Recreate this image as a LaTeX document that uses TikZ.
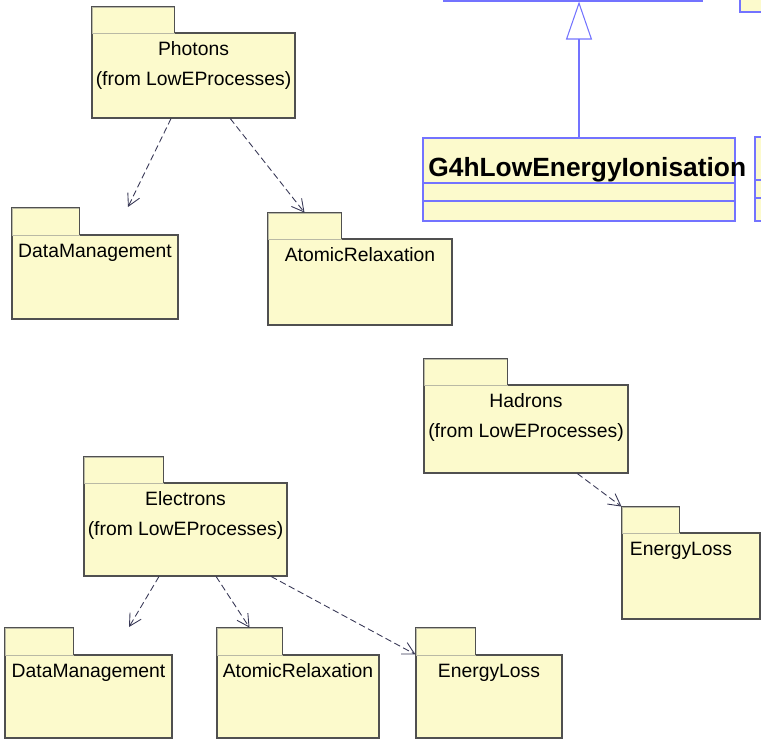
\documentclass[tikz,border=0pt]{standalone}
\usepackage{fontspec}
\setmainfont{Liberation Sans}
\usetikzlibrary{arrows.meta,positioning,fit,calc}
\definecolor{pkgfill}{RGB}{252,250,204}
\definecolor{pkgline}{RGB}{80,80,80}
\definecolor{tabline}{RGB}{185,185,165}
\definecolor{classline}{RGB}{115,115,255}
\definecolor{deparrow}{RGB}{55,55,85}

\begin{document}
\begin{tikzpicture}[
    x=0.02cm, y=-0.02cm,
    font=\fontsize{11}{17}\selectfont,
    pkg/.style={draw=pkgline, fill=pkgfill, line width=0.6pt, inner sep=0pt},
    pkgtab/.style={draw=tabline, fill=pkgfill, line width=0.5pt, inner sep=0pt},
    pkgedge/.style={draw=pkgline, line width=0.6pt},
    pkglabel/.style={align=center, inner sep=0pt, below=1.8mm of #1.north},
    cls/.style={draw=classline, fill=pkgfill, line width=0.6pt, inner sep=0pt},
    dep/.style={-{Straight Barb[length=2.4mm, width=2.6mm]}, draw=deparrow, dash pattern=on 1.3mm off 0.7mm, line width=0.5pt},
    gen/.style={-{Triangle[open, length=7.6mm, width=5.2mm]}, draw=classline, line width=0.6pt}]
  \useasboundingbox (0,0) rectangle (761,740);
  \clip (0,0) rectangle (761,740);

  % classes cut off at the edges
  \node[cls, fit={(444,-20) (702,1)}] (baseClass) {};
  \node[cls, fit={(740,-20) (790,12)}] (cornerClass) {};
  \node[cls, fit={(755,137) (800,180)}] (sideClass) {};
  \node[cls, fit={(755,180) (800,198)}] (sideAttr) {};
  \node[cls, fit={(755,198) (800,221)}] (sideOps) {};

  % G4hLowEnergyIonisation
  \node[cls, fit={(423,138) (735,183)}] (ionisation) {};
  \node[cls, fit={(423,183) (735,201)}] (ionisationAttr) {};
  \node[cls, fit={(423,201) (735,221)}] (ionisationOps) {};
  \node[anchor=base west, inner sep=0pt, font=\fontsize{15}{18}\selectfont\bfseries] (ionisationName) at (428,176) {G4hLowEnergyIonisation};
  \draw[gen] (ionisation.north) -- (ionisation.north |- baseClass.south);

  % packages
  \node[pkg, fit={(92,33) (295,118)}] (photons) {};
  \node[pkgtab, fit={(92,7) (174,33)}] (photonsTab) {};
  \node[pkglabel=photons] (photonsLbl) {Photons\\(from LowEProcesses)};

  \node[pkg, fit={(12,235) (178,319)}] (dmTop) {};
  \node[pkgtab, fit={(12,208) (79,235)}] (dmTopTab) {};
  \node[pkglabel=dmTop] (dmTopLbl) {DataManagement};

  \node[pkg, fit={(268,239) (452,325)}] (arTop) {};
  \node[pkgtab, fit={(268,213) (341,239)}] (arTopTab) {};
  \node[pkglabel=arTop] (arTopLbl) {AtomicRelaxation};

  \node[pkg, fit={(424,385) (628,473)}] (hadrons) {};
  \node[pkgtab, fit={(424,359) (507,385)}] (hadronsTab) {};
  \node[pkglabel=hadrons] (hadronsLbl) {Hadrons\\(from LowEProcesses)};

  \node[pkg, fit={(622,533) (760,619)}] (elRight) {};
  \node[pkgtab, fit={(622,507) (679,533)}] (elRightTab) {};
  \node[pkglabel=elRight, xshift=-2mm] (elRightLbl) {EnergyLoss};

  \node[pkg, fit={(84,483) (287,576)}] (electrons) {};
  \node[pkgtab, fit={(84,457) (163,483)}] (electronsTab) {};
  \node[pkglabel=electrons] (electronsLbl) {Electrons\\(from LowEProcesses)};

  \node[pkg, fit={(5,655) (172,738)}] (dmBot) {};
  \node[pkgtab, fit={(5,628) (73,655)}] (dmBotTab) {};
  \node[pkglabel=dmBot] (dmBotLbl) {DataManagement};

  \node[pkg, fit={(217,655) (379,738)}] (arBot) {};
  \node[pkgtab, fit={(217,628) (282,655)}] (arBotTab) {};
  \node[pkglabel=arBot] (arBotLbl) {AtomicRelaxation};

  \node[pkg, fit={(416,655) (562,738)}] (elBot) {};
  \node[pkgtab, fit={(416,628) (475,655)}] (elBotTab) {};
  \node[pkglabel=elBot] (elBotLbl) {EnergyLoss};

  \foreach \t in {photonsTab, dmTopTab, arTopTab, hadronsTab, elRightTab, electronsTab, dmBotTab, arBotTab, elBotTab}
    \draw[pkgedge] (\t.south west) |- (\t.north east) -- (\t.south east);

  % dependencies
  \coordinate (dmTopHead) at (128,207);
  \coordinate (dmBotHead) at (129,627);
  \draw[dep] ($(photons.south west)!0.39!(photons.south east)$) -- (dmTopHead);
  \draw[dep] ($(photons.south west)!0.68!(photons.south east)$) -- (arTopTab.north);
  \draw[dep] ($(hadrons.south west)!0.75!(hadrons.south east)$) -- (elRightTab.north west);
  \draw[dep] ($(electrons.south west)!0.37!(electrons.south east)$) -- (dmBotHead);
  \draw[dep] ($(electrons.south west)!0.65!(electrons.south east)$) -- (arBotTab.north);
  \draw[dep] ($(electrons.south west)!0.92!(electrons.south east)$) -- (elBot.north west);
\end{tikzpicture}
\end{document}
